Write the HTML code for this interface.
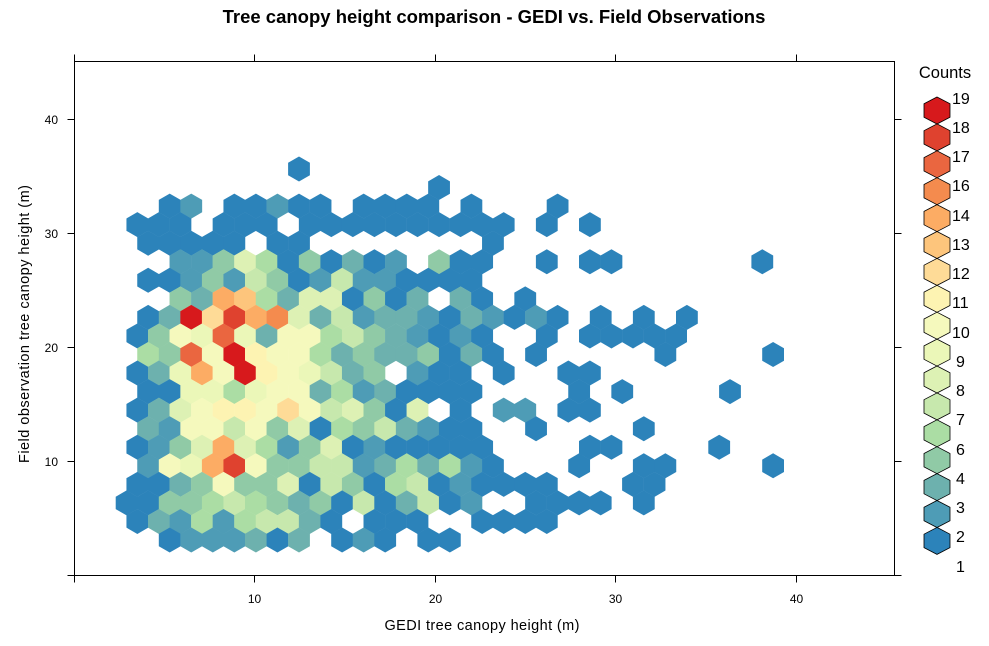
<!DOCTYPE html>
<html><head><meta charset="utf-8"><style>
html,body{margin:0;padding:0;background:#fff;}
svg{display:block;font-family:"Liberation Sans",Arial,sans-serif;}
.c1{fill:#2c83ba}.c2{fill:#4e9cb6}.c3{fill:#6db1ae}.c4{fill:#90caa6}.c6{fill:#abdda4}.c7{fill:#c7e8ad}.c8{fill:#ddf1b4}.c9{fill:#ebf7b8}.c10{fill:#f5f9bd}.c11{fill:#fdf3b2}.c12{fill:#fedb97}.c13{fill:#fdc57c}.c14{fill:#fcac64}.c16{fill:#f48b4e}.c17{fill:#ea6640}.c18{fill:#df422f}.c19{fill:#d7191c}
</style></head><body>
<svg width="989" height="646" viewBox="0 0 989 646" xmlns="http://www.w3.org/2000/svg" xmlns:xlink="http://www.w3.org/1999/xlink">
<defs>
<polygon id="h" points="0,-12.5 10.9,-6.2 10.9,6.2 0,12.5 -10.9,6.2 -10.9,-6.2"/>
<polygon id="L" points="0,-13.5 13,-6.7 13,6.7 0,13.5 -13,6.7 -13,-6.7" stroke="#000" stroke-width="0.8"/>
</defs>
<text x="494" y="23" text-anchor="middle" font-size="18.5" font-weight="bold">Tree canopy height comparison - GEDI vs. Field Observations</text>

<g>
<g transform="translate(105.05,169)"><use href="#h" x="193.95" class="c1"/></g>
<g transform="translate(115.8,187.55)"><use href="#h" x="323.25" class="c1"/></g>
<g transform="translate(105.05,206.1)">
<use href="#h" x="64.65" class="c1"/><use href="#h" x="86.2" class="c2"/><use href="#h" x="129.3" class="c1"/><use href="#h" x="150.85" class="c1"/><use href="#h" x="172.4" class="c2"/><use href="#h" x="193.95" class="c1"/><use href="#h" x="215.5" class="c1"/><use href="#h" x="258.6" class="c1"/><use href="#h" x="280.15" class="c1"/><use href="#h" x="301.7" class="c1"/><use href="#h" x="323.25" class="c1"/><use href="#h" x="366.35" class="c1"/><use href="#h" x="452.55" class="c1"/>
</g>
<g transform="translate(115.8,224.65)">
<use href="#h" x="21.55" class="c1"/><use href="#h" x="43.1" class="c1"/><use href="#h" x="64.65" class="c1"/><use href="#h" x="107.75" class="c1"/><use href="#h" x="129.3" class="c1"/><use href="#h" x="150.85" class="c1"/><use href="#h" x="193.95" class="c1"/><use href="#h" x="215.5" class="c1"/><use href="#h" x="237.05" class="c1"/><use href="#h" x="258.6" class="c1"/><use href="#h" x="280.15" class="c1"/><use href="#h" x="301.7" class="c1"/><use href="#h" x="323.25" class="c1"/><use href="#h" x="344.8" class="c1"/><use href="#h" x="366.35" class="c1"/><use href="#h" x="387.9" class="c1"/><use href="#h" x="431" class="c1"/><use href="#h" x="474.1" class="c1"/>
</g>
<g transform="translate(105.05,243.2)">
<use href="#h" x="43.1" class="c1"/><use href="#h" x="64.65" class="c1"/><use href="#h" x="86.2" class="c1"/><use href="#h" x="107.75" class="c1"/><use href="#h" x="129.3" class="c1"/><use href="#h" x="172.4" class="c1"/><use href="#h" x="193.95" class="c1"/><use href="#h" x="387.9" class="c1"/>
</g>
<g transform="translate(115.8,261.75)">
<use href="#h" x="64.65" class="c2"/><use href="#h" x="86.2" class="c2"/><use href="#h" x="107.75" class="c4"/><use href="#h" x="129.3" class="c8"/><use href="#h" x="150.85" class="c6"/><use href="#h" x="172.4" class="c1"/><use href="#h" x="193.95" class="c4"/><use href="#h" x="215.5" class="c1"/><use href="#h" x="237.05" class="c3"/><use href="#h" x="258.6" class="c1"/><use href="#h" x="280.15" class="c2"/><use href="#h" x="323.25" class="c4"/><use href="#h" x="344.8" class="c1"/><use href="#h" x="366.35" class="c1"/><use href="#h" x="431" class="c1"/><use href="#h" x="474.1" class="c1"/><use href="#h" x="495.65" class="c1"/><use href="#h" x="646.5" class="c1"/>
</g>
<g transform="translate(105.05,280.3)">
<use href="#h" x="43.1" class="c1"/><use href="#h" x="64.65" class="c1"/><use href="#h" x="86.2" class="c2"/><use href="#h" x="107.75" class="c4"/><use href="#h" x="129.3" class="c2"/><use href="#h" x="150.85" class="c7"/><use href="#h" x="172.4" class="c4"/><use href="#h" x="193.95" class="c1"/><use href="#h" x="215.5" class="c2"/><use href="#h" x="237.05" class="c7"/><use href="#h" x="258.6" class="c2"/><use href="#h" x="280.15" class="c2"/><use href="#h" x="301.7" class="c1"/><use href="#h" x="323.25" class="c1"/><use href="#h" x="344.8" class="c1"/><use href="#h" x="366.35" class="c1"/>
</g>
<g transform="translate(115.8,298.85)">
<use href="#h" x="64.65" class="c4"/><use href="#h" x="86.2" class="c3"/><use href="#h" x="107.75" class="c14"/><use href="#h" x="129.3" class="c13"/><use href="#h" x="150.85" class="c6"/><use href="#h" x="172.4" class="c3"/><use href="#h" x="193.95" class="c8"/><use href="#h" x="215.5" class="c8"/><use href="#h" x="237.05" class="c1"/><use href="#h" x="258.6" class="c4"/><use href="#h" x="280.15" class="c1"/><use href="#h" x="301.7" class="c3"/><use href="#h" x="344.8" class="c3"/><use href="#h" x="366.35" class="c1"/><use href="#h" x="409.45" class="c1"/>
</g>
<g transform="translate(105.05,317.4)">
<use href="#h" x="43.1" class="c1"/><use href="#h" x="64.65" class="c3"/><use href="#h" x="86.2" class="c19"/><use href="#h" x="107.75" class="c12"/><use href="#h" x="129.3" class="c18"/><use href="#h" x="150.85" class="c14"/><use href="#h" x="172.4" class="c16"/><use href="#h" x="193.95" class="c8"/><use href="#h" x="215.5" class="c3"/><use href="#h" x="237.05" class="c7"/><use href="#h" x="258.6" class="c2"/><use href="#h" x="280.15" class="c3"/><use href="#h" x="301.7" class="c3"/><use href="#h" x="323.25" class="c2"/><use href="#h" x="344.8" class="c1"/><use href="#h" x="366.35" class="c3"/><use href="#h" x="387.9" class="c2"/><use href="#h" x="409.45" class="c1"/><use href="#h" x="431" class="c2"/><use href="#h" x="452.55" class="c1"/><use href="#h" x="495.65" class="c1"/><use href="#h" x="538.75" class="c1"/><use href="#h" x="581.85" class="c1"/>
</g>
<g transform="translate(115.8,335.95)">
<use href="#h" x="21.55" class="c1"/><use href="#h" x="43.1" class="c4"/><use href="#h" x="64.65" class="c10"/><use href="#h" x="86.2" class="c9"/><use href="#h" x="107.75" class="c17"/><use href="#h" x="129.3" class="c9"/><use href="#h" x="150.85" class="c3"/><use href="#h" x="172.4" class="c10"/><use href="#h" x="193.95" class="c10"/><use href="#h" x="215.5" class="c6"/><use href="#h" x="237.05" class="c7"/><use href="#h" x="258.6" class="c4"/><use href="#h" x="280.15" class="c3"/><use href="#h" x="301.7" class="c2"/><use href="#h" x="323.25" class="c1"/><use href="#h" x="344.8" class="c2"/><use href="#h" x="366.35" class="c1"/><use href="#h" x="431" class="c1"/><use href="#h" x="474.1" class="c1"/><use href="#h" x="495.65" class="c1"/><use href="#h" x="517.2" class="c1"/><use href="#h" x="538.75" class="c1"/><use href="#h" x="560.3" class="c1"/>
</g>
<g transform="translate(105.05,354.5)">
<use href="#h" x="43.1" class="c6"/><use href="#h" x="64.65" class="c4"/><use href="#h" x="86.2" class="c17"/><use href="#h" x="107.75" class="c10"/><use href="#h" x="129.3" class="c19"/><use href="#h" x="150.85" class="c11"/><use href="#h" x="172.4" class="c10"/><use href="#h" x="193.95" class="c10"/><use href="#h" x="215.5" class="c6"/><use href="#h" x="237.05" class="c3"/><use href="#h" x="258.6" class="c4"/><use href="#h" x="280.15" class="c3"/><use href="#h" x="301.7" class="c3"/><use href="#h" x="323.25" class="c4"/><use href="#h" x="344.8" class="c1"/><use href="#h" x="366.35" class="c3"/><use href="#h" x="387.9" class="c1"/><use href="#h" x="431" class="c1"/><use href="#h" x="560.3" class="c1"/><use href="#h" x="668.05" class="c1"/>
</g>
<g transform="translate(115.8,373.05)">
<use href="#h" x="21.55" class="c1"/><use href="#h" x="43.1" class="c3"/><use href="#h" x="64.65" class="c9"/><use href="#h" x="86.2" class="c14"/><use href="#h" x="107.75" class="c10"/><use href="#h" x="129.3" class="c19"/><use href="#h" x="150.85" class="c11"/><use href="#h" x="172.4" class="c10"/><use href="#h" x="193.95" class="c9"/><use href="#h" x="215.5" class="c7"/><use href="#h" x="237.05" class="c3"/><use href="#h" x="258.6" class="c4"/><use href="#h" x="301.7" class="c2"/><use href="#h" x="323.25" class="c1"/><use href="#h" x="344.8" class="c1"/><use href="#h" x="387.9" class="c1"/><use href="#h" x="452.55" class="c1"/><use href="#h" x="474.1" class="c1"/>
</g>
<g transform="translate(105.05,391.6)">
<use href="#h" x="43.1" class="c1"/><use href="#h" x="64.65" class="c1"/><use href="#h" x="86.2" class="c9"/><use href="#h" x="107.75" class="c9"/><use href="#h" x="129.3" class="c6"/><use href="#h" x="150.85" class="c9"/><use href="#h" x="172.4" class="c10"/><use href="#h" x="193.95" class="c10"/><use href="#h" x="215.5" class="c3"/><use href="#h" x="237.05" class="c6"/><use href="#h" x="258.6" class="c2"/><use href="#h" x="280.15" class="c3"/><use href="#h" x="301.7" class="c1"/><use href="#h" x="323.25" class="c1"/><use href="#h" x="344.8" class="c1"/><use href="#h" x="366.35" class="c1"/><use href="#h" x="474.1" class="c1"/><use href="#h" x="517.2" class="c1"/><use href="#h" x="624.95" class="c1"/>
</g>
<g transform="translate(115.8,410.15)">
<use href="#h" x="21.55" class="c1"/><use href="#h" x="43.1" class="c3"/><use href="#h" x="64.65" class="c8"/><use href="#h" x="86.2" class="c10"/><use href="#h" x="107.75" class="c11"/><use href="#h" x="129.3" class="c11"/><use href="#h" x="150.85" class="c10"/><use href="#h" x="172.4" class="c12"/><use href="#h" x="193.95" class="c10"/><use href="#h" x="215.5" class="c7"/><use href="#h" x="237.05" class="c8"/><use href="#h" x="258.6" class="c4"/><use href="#h" x="280.15" class="c1"/><use href="#h" x="301.7" class="c8"/><use href="#h" x="344.8" class="c1"/><use href="#h" x="387.9" class="c2"/><use href="#h" x="409.45" class="c2"/><use href="#h" x="452.55" class="c1"/><use href="#h" x="474.1" class="c1"/>
</g>
<g transform="translate(105.05,428.7)">
<use href="#h" x="43.1" class="c3"/><use href="#h" x="64.65" class="c2"/><use href="#h" x="86.2" class="c10"/><use href="#h" x="107.75" class="c10"/><use href="#h" x="129.3" class="c7"/><use href="#h" x="150.85" class="c10"/><use href="#h" x="172.4" class="c4"/><use href="#h" x="193.95" class="c8"/><use href="#h" x="215.5" class="c1"/><use href="#h" x="237.05" class="c6"/><use href="#h" x="258.6" class="c4"/><use href="#h" x="280.15" class="c7"/><use href="#h" x="301.7" class="c3"/><use href="#h" x="323.25" class="c2"/><use href="#h" x="344.8" class="c1"/><use href="#h" x="366.35" class="c1"/><use href="#h" x="431" class="c1"/><use href="#h" x="538.75" class="c1"/>
</g>
<g transform="translate(115.8,447.25)">
<use href="#h" x="21.55" class="c1"/><use href="#h" x="43.1" class="c2"/><use href="#h" x="64.65" class="c4"/><use href="#h" x="86.2" class="c8"/><use href="#h" x="107.75" class="c14"/><use href="#h" x="129.3" class="c8"/><use href="#h" x="150.85" class="c6"/><use href="#h" x="172.4" class="c2"/><use href="#h" x="193.95" class="c4"/><use href="#h" x="215.5" class="c8"/><use href="#h" x="237.05" class="c1"/><use href="#h" x="258.6" class="c2"/><use href="#h" x="280.15" class="c1"/><use href="#h" x="301.7" class="c1"/><use href="#h" x="323.25" class="c1"/><use href="#h" x="344.8" class="c1"/><use href="#h" x="366.35" class="c1"/><use href="#h" x="474.1" class="c1"/><use href="#h" x="495.65" class="c1"/><use href="#h" x="603.4" class="c1"/>
</g>
<g transform="translate(105.05,465.8)">
<use href="#h" x="43.1" class="c2"/><use href="#h" x="64.65" class="c10"/><use href="#h" x="86.2" class="c9"/><use href="#h" x="107.75" class="c14"/><use href="#h" x="129.3" class="c18"/><use href="#h" x="150.85" class="c10"/><use href="#h" x="172.4" class="c4"/><use href="#h" x="193.95" class="c4"/><use href="#h" x="215.5" class="c7"/><use href="#h" x="237.05" class="c7"/><use href="#h" x="258.6" class="c2"/><use href="#h" x="280.15" class="c3"/><use href="#h" x="301.7" class="c6"/><use href="#h" x="323.25" class="c3"/><use href="#h" x="344.8" class="c6"/><use href="#h" x="366.35" class="c2"/><use href="#h" x="387.9" class="c1"/><use href="#h" x="474.1" class="c1"/><use href="#h" x="538.75" class="c1"/><use href="#h" x="560.3" class="c1"/><use href="#h" x="668.05" class="c1"/>
</g>
<g transform="translate(115.8,484.35)">
<use href="#h" x="21.55" class="c1"/><use href="#h" x="43.1" class="c1"/><use href="#h" x="64.65" class="c3"/><use href="#h" x="86.2" class="c4"/><use href="#h" x="107.75" class="c10"/><use href="#h" x="129.3" class="c4"/><use href="#h" x="150.85" class="c4"/><use href="#h" x="172.4" class="c8"/><use href="#h" x="193.95" class="c1"/><use href="#h" x="215.5" class="c7"/><use href="#h" x="237.05" class="c4"/><use href="#h" x="258.6" class="c1"/><use href="#h" x="280.15" class="c6"/><use href="#h" x="301.7" class="c7"/><use href="#h" x="323.25" class="c1"/><use href="#h" x="344.8" class="c2"/><use href="#h" x="366.35" class="c1"/><use href="#h" x="387.9" class="c1"/><use href="#h" x="409.45" class="c1"/><use href="#h" x="431" class="c1"/><use href="#h" x="517.2" class="c1"/><use href="#h" x="538.75" class="c1"/>
</g>
<g transform="translate(105.05,502.9)">
<use href="#h" x="21.55" class="c1"/><use href="#h" x="43.1" class="c1"/><use href="#h" x="64.65" class="c4"/><use href="#h" x="86.2" class="c4"/><use href="#h" x="107.75" class="c6"/><use href="#h" x="129.3" class="c7"/><use href="#h" x="150.85" class="c6"/><use href="#h" x="172.4" class="c4"/><use href="#h" x="193.95" class="c3"/><use href="#h" x="215.5" class="c4"/><use href="#h" x="237.05" class="c1"/><use href="#h" x="258.6" class="c7"/><use href="#h" x="280.15" class="c1"/><use href="#h" x="301.7" class="c3"/><use href="#h" x="323.25" class="c7"/><use href="#h" x="344.8" class="c1"/><use href="#h" x="366.35" class="c2"/><use href="#h" x="431" class="c1"/><use href="#h" x="452.55" class="c1"/><use href="#h" x="474.1" class="c1"/><use href="#h" x="495.65" class="c1"/><use href="#h" x="538.75" class="c1"/>
</g>
<g transform="translate(115.8,521.45)">
<use href="#h" x="21.55" class="c1"/><use href="#h" x="43.1" class="c3"/><use href="#h" x="64.65" class="c2"/><use href="#h" x="86.2" class="c6"/><use href="#h" x="107.75" class="c2"/><use href="#h" x="129.3" class="c6"/><use href="#h" x="150.85" class="c7"/><use href="#h" x="172.4" class="c7"/><use href="#h" x="193.95" class="c3"/><use href="#h" x="215.5" class="c1"/><use href="#h" x="258.6" class="c1"/><use href="#h" x="280.15" class="c1"/><use href="#h" x="301.7" class="c1"/><use href="#h" x="366.35" class="c1"/><use href="#h" x="387.9" class="c1"/><use href="#h" x="409.45" class="c1"/><use href="#h" x="431" class="c1"/>
</g>
<g transform="translate(105.05,540)">
<use href="#h" x="64.65" class="c1"/><use href="#h" x="86.2" class="c2"/><use href="#h" x="107.75" class="c2"/><use href="#h" x="129.3" class="c2"/><use href="#h" x="150.85" class="c3"/><use href="#h" x="172.4" class="c1"/><use href="#h" x="193.95" class="c3"/><use href="#h" x="237.05" class="c1"/><use href="#h" x="258.6" class="c2"/><use href="#h" x="280.15" class="c1"/><use href="#h" x="323.25" class="c1"/><use href="#h" x="344.8" class="c1"/>
</g>
</g>

<g stroke="#000" stroke-width="1" fill="none">
<rect x="74.5" y="61.5" width="820" height="514"/>
<path d="M74.5,575.5v7 M254.5,575.5v7 M435.5,575.5v7 M615.5,575.5v7 M796.5,575.5v7
M74.5,61.5v-7 M254.5,61.5v-7 M435.5,61.5v-7 M615.5,61.5v-7 M796.5,61.5v-7
M74.5,575.5h-7 M74.5,461.5h-7 M74.5,347.5h-7 M74.5,233.5h-7 M74.5,119.5h-7
M894.5,575.5h7 M894.5,461.5h7 M894.5,347.5h7 M894.5,233.5h7 M894.5,119.5h7"/>
</g>
<g font-size="12" fill="#000" text-anchor="middle">
<text x="254.5" y="603">10</text><text x="435.5" y="603">20</text><text x="615.5" y="603">30</text><text x="796.5" y="603">40</text>
</g>
<g font-size="12" fill="#000" text-anchor="end">
<text x="58" y="466">10</text><text x="58" y="352">20</text><text x="58" y="238">30</text><text x="58" y="124">40</text>
</g>
<text x="482" y="630" text-anchor="middle" font-size="14.5" textLength="195">GEDI tree canopy height (m)</text>
<text transform="translate(29,324) rotate(-90)" text-anchor="middle" font-size="14.5" textLength="278">Field observation tree canopy height (m)</text>

<text x="945" y="78" text-anchor="middle" font-size="16.5">Counts</text>
<g transform="translate(937,0)">
<use href="#L" y="110.5" class="c19"/><use href="#L" y="137.4" class="c18"/><use href="#L" y="164.3" class="c17"/><use href="#L" y="191.2" class="c16"/><use href="#L" y="218.1" class="c14"/><use href="#L" y="245" class="c13"/><use href="#L" y="271.9" class="c12"/><use href="#L" y="298.8" class="c11"/><use href="#L" y="325.7" class="c10"/><use href="#L" y="352.6" class="c9"/><use href="#L" y="379.5" class="c8"/><use href="#L" y="406.4" class="c7"/><use href="#L" y="433.3" class="c6"/><use href="#L" y="460.2" class="c4"/><use href="#L" y="487.1" class="c3"/><use href="#L" y="514" class="c2"/><use href="#L" y="540.9" class="c1"/>
</g>
<g font-size="16" fill="#000">
<text x="952" y="104">19</text><text x="952" y="133">18</text><text x="952" y="162">17</text><text x="952" y="191">16</text><text x="952" y="221">14</text><text x="952" y="250">13</text><text x="952" y="279">12</text><text x="952" y="308">11</text><text x="952" y="338">10</text><text x="956" y="367">9</text><text x="956" y="396">8</text><text x="956" y="425">7</text><text x="956" y="455">6</text><text x="956" y="484">4</text><text x="956" y="513">3</text><text x="956" y="542">2</text><text x="956" y="572">1</text>
</g>
</svg>
</body></html>
